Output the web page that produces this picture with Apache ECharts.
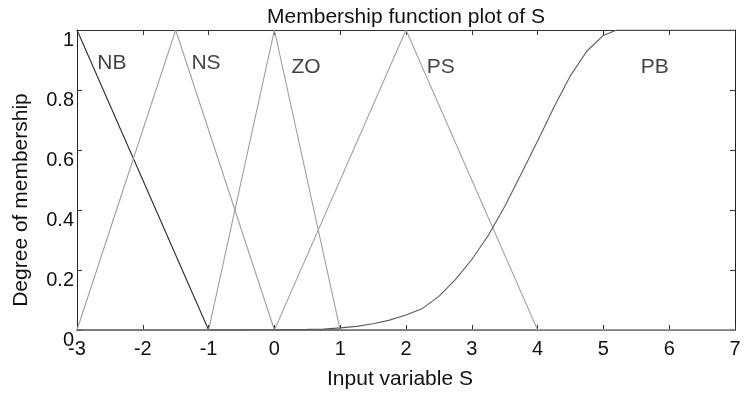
<!DOCTYPE html>
<html>
<head>
<meta charset="utf-8">
<script src="https://cdn.jsdelivr.net/npm/echarts@6/dist/echarts.min.js"></script>
<style>
html,body{margin:0;padding:0;background:#fff;}
#chart{width:744px;height:396px;}
</style>
</head>
<body>
<div id="chart"></div>
<script>
// ---- data ----
var xTicks = [-3, -2, -1, 0, 1, 2, 3, 4, 5, 6, 7];
var yTicks = [0, 0.2, 0.4, 0.6, 0.8, 1];
var mfNames = ['NB', 'NS', 'ZO', 'PS', 'PB'];
var NB = [[-3, 1], [-1, 0], [7, 0]];
var NS = [[-3, 0], [-1.5, 1], [0, 0], [7, 0]];
var ZO = [[-3, 0], [-1, 0], [0, 1], [1, 0], [7, 0]];
var PS = [[-3, 0], [0, 0], [2, 1], [4, 0], [7, 0]];
var PB = [[-3, 0], [-1, 0], [0, 0.001], [0.5, 0.002], [0.75, 0.003], [1.0, 0.007], [1.25, 0.012],
          [1.5, 0.021], [1.75, 0.033], [2.0, 0.05], [2.25, 0.072], [2.5, 0.112], [2.75, 0.168],
          [3.0, 0.235], [3.25, 0.315], [3.5, 0.412], [3.75, 0.52], [4.0, 0.63], [4.25, 0.743],
          [4.5, 0.848], [4.75, 0.93], [5.0, 0.982], [5.2, 1.0], [7, 1.0]];
var labelPos = [[-2.47, 0.89], [-1.04, 0.89], [0.48, 0.875], [2.53, 0.875], [5.78, 0.875]];
var titleText = 'Membership function plot of S';
var xName = 'Input variable S';
var yName = 'Degree of membership';

var FONT = '"Liberation Sans", Arial, sans-serif';
var TXT = '#111';
var chart = echarts.init(document.getElementById('chart'), null, {renderer: 'canvas'});

var seriesData = [NB, NS, ZO, PS, PB];
var colors = ['#2b2b2b', '#a0a0a0', '#9c9c9c', '#a4a4a4', '#5c5c5c'];
var series = seriesData.map(function (d, i) {
  return {
    name: mfNames[i], type: 'line', data: d, showSymbol: false, symbol: 'none',
    smooth: false,
    lineStyle: {color: colors[i], width: 1.1}, z: 3, animation: false, silent: true
  };
});
series.push({
  type: 'scatter', symbolSize: 0, silent: true, animation: false,
  data: labelPos.map(function (p, i) { return {value: p, name: mfNames[i]}; }),
  label: {show: true, position: 'inside', formatter: function (p) { return p.name; },
           color: TXT, fontFamily: FONT, fontSize: 21}
});

var tickStyle = {show: true, inside: true, length: 5, lineStyle: {color: '#333'}};
chart.setOption({
  animation: false,
  backgroundColor: '#fff',
  title: {text: titleText, left: 401, top: 2, textAlign: 'center',
          textStyle: {fontFamily: FONT, fontSize: 21, fontWeight: 'normal', color: TXT}},
  grid: {left: 77, right: 9, top: 30, bottom: 66},
  xAxis: [
    {type: 'value', min: -3, max: 7, interval: 1, position: 'bottom',
     name: xName, nameLocation: 'middle', nameGap: 39,
     nameTextStyle: {fontFamily: FONT, fontSize: 21, color: TXT, padding: [0, 12, 0, 0]},
     axisLine: {show: true, onZero: false, lineStyle: {color: '#7a7a7a', width: 2}},
     axisTick: tickStyle, splitLine: {show: false},
     axisLabel: {show: true, margin: 9, color: TXT, fontFamily: FONT, fontSize: 20,
                 formatter: function (v) { return xTicks.indexOf(v) >= 0 ? String(v) : ''; }}},
    {type: 'value', min: -3, max: 7, interval: 1, position: 'top',
     axisLine: {show: true, onZero: false, lineStyle: {color: '#333', width: 1}},
     axisTick: tickStyle, splitLine: {show: false}, axisLabel: {show: false}}
  ],
  yAxis: [
    {type: 'value', min: 0, max: 1, interval: 0.2, position: 'left',
     name: yName, nameLocation: 'middle', nameGap: 45,
     nameTextStyle: {fontFamily: FONT, fontSize: 21, color: TXT, padding: [0, 40, 0, 0]},
     axisLine: {show: true, onZero: false, lineStyle: {color: '#222', width: 1}},
     axisTick: tickStyle, splitLine: {show: false},
     axisLabel: {show: true, margin: 3, color: TXT, fontFamily: FONT, fontSize: 20,
                 verticalAlign: 'top', lineHeight: 20,
                 formatter: function (v) {
                   for (var k = 0; k < yTicks.length; k++) { if (Math.abs(yTicks[k] - v) < 1e-9) return String(yTicks[k]); }
                   return '';
                 }}},
    {type: 'value', min: 0, max: 1, interval: 0.2, position: 'right',
     axisLine: {show: true, onZero: false, lineStyle: {color: '#222', width: 1}},
     axisTick: tickStyle, splitLine: {show: false}, axisLabel: {show: false}}
  ],
  series: series
});
</script>
</body>
</html>
